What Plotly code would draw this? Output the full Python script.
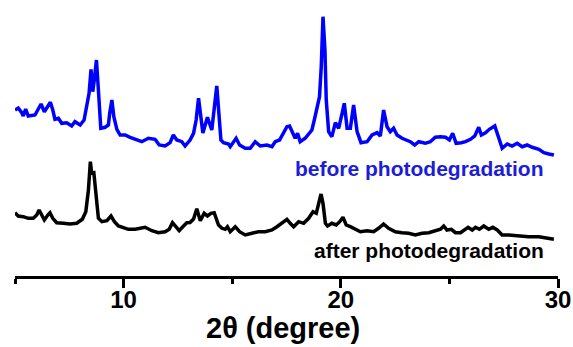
import plotly.graph_objects as go

# XRD patterns (2-theta in degrees, intensity in a.u., stacked for display)
two_theta_before = [
    5.00, 5.15, 5.31, 5.38, 5.49, 5.61, 5.92, 6.07, 6.20, 6.35,
    6.51, 6.63, 6.74, 6.84, 7.00, 7.15, 7.38, 7.61, 7.76, 8.00,
    8.18, 8.30, 8.41, 8.50, 8.58, 8.65, 8.75, 8.84, 8.95, 9.15,
    9.30, 9.36, 9.46, 9.55, 9.69, 9.84, 10.07, 10.30, 10.53, 10.84,
    11.14, 11.45, 11.64, 11.91, 12.14, 12.29, 12.45, 12.68, 12.83, 13.06,
    13.22, 13.34, 13.45,
    13.65, 13.86, 14.06, 14.29, 14.48, 14.60, 14.83, 14.91, 15.18, 15.34,
    15.60, 15.83, 16.06, 16.29, 16.60, 16.83, 16.98, 17.18, 17.36, 17.52,
    17.64, 17.75, 17.90, 18.01, 18.13, 18.36, 18.52, 18.67, 18.78, 18.90,
    19.02, 19.10, 19.18, 19.27, 19.33, 19.44, 19.59, 19.75, 19.90, 20.06,
    20.16, 20.29, 20.44, 20.59, 20.75, 20.93, 21.21, 21.44, 21.67, 21.82,
    21.97,
    22.13, 22.28, 22.43, 22.59, 22.82, 23.05, 23.20, 23.40, 23.59, 23.89,
    24.12, 24.35, 24.59, 24.82, 25.00, 25.15, 25.31, 25.55, 25.74, 25.97,
    26.17, 26.35, 26.47, 26.66, 26.84, 27.09, 27.27, 27.43, 27.66, 27.89,
    28.12, 28.35, 28.58, 28.81, 29.12, 29.35, 29.58, 29.81,
]
intensity_before = [
    166, 168, 163.3, 160, 167, 160, 161, 167, 172, 164.3,
    169.3, 173.7, 166, 156.7, 157.7, 152.7, 153.3, 150, 154.3, 151,
    156, 172.7, 182.7, 206.7, 184.3, 196, 216, 186, 147.7, 148.7,
    151, 162.7, 176, 159.3, 146.7, 141, 141, 138.7, 136.7, 134.3,
    137.7, 136.7, 131, 130, 133.3, 141, 136, 134.3, 130, 136,
    142.7, 156, 177.7,
    143, 158.7, 146, 190, 136, 133.3, 132, 129.3, 137.7, 131,
    127.7, 127.7, 134.3, 130, 131, 129.3, 134.3, 136, 142.7, 149.3,
    150, 144.3, 137.7, 142.7, 134.3, 137.7, 142.7, 146, 156, 168.7,
    179.3, 209.3, 259.3, 226, 176, 144.3, 139.3, 153.3, 147.7, 162.7,
    172.7, 147.7, 147.7, 171, 144.3, 133.3, 134.3, 141, 143.3, 140,
    166,
    149.3, 144.3, 147.7, 141, 137.7, 136, 134.3, 131, 134.3, 132.7,
    134.3, 138.7, 139.3, 138.7, 136, 142.7, 132.7, 133.3, 134.3, 136.7,
    140, 148.7, 141, 143.3, 146.7, 150, 139.3, 127.7, 132, 130,
    132.7, 129.3, 131, 128.7, 126.7, 123.3, 122, 121,
]

two_theta_after = [
    5.00, 5.15, 5.38, 5.61, 5.84, 6.00, 6.11, 6.23, 6.35, 6.51,
    6.61, 6.74, 6.92, 7.23, 7.53, 7.84, 8.10, 8.26, 8.38, 8.47,
    8.53, 8.63, 8.72, 8.84, 9.00, 9.23, 9.42, 9.58, 9.76, 9.99,
    10.22, 10.53, 10.84, 10.99, 11.30, 11.60, 11.91, 12.10, 12.25, 12.37,
    12.56, 12.76, 12.91, 13.06, 13.22, 13.37, 13.53, 13.71, 13.86, 14.02,
    14.17, 14.37, 14.53, 14.68, 14.78, 14.91, 15.14, 15.34, 15.60, 15.91,
    16.21, 16.52, 16.83, 17.06, 17.29, 17.52, 17.67, 17.83, 18.06, 18.29,
    18.52, 18.72, 18.87, 18.98, 19.09, 19.18, 19.29, 19.39, 19.59, 19.79,
    19.95, 20.10, 20.25, 20.44, 20.67, 20.90, 21.21, 21.51, 21.74, 21.97,
    22.20, 22.51, 22.82, 23.12, 23.43, 23.74, 24.05, 24.35, 24.59, 24.74,
    24.89, 25.09, 25.28, 25.51, 25.70, 25.86, 26.05, 26.20, 26.38, 26.58,
    26.81, 27.00, 27.20, 27.43, 27.73, 28.19, 28.65, 29.12, 29.58, 29.81,
]
intensity_after = [
    63.3, 60, 59.3, 57.7, 57.7, 61, 66, 61, 56, 61,
    63.3, 57.7, 53.3, 52.7, 52, 52.7, 56.7, 64.3, 86, 114.3,
    102.7, 103.3, 82.7, 57.7, 54.3, 55.3, 60, 54.3, 50, 48.7,
    46.7, 46.7, 47.7, 48.7, 45.3, 43.3, 44.3, 46.7, 53.3, 50,
    45.3, 50, 53.3, 53.5, 57, 67.3, 55.3, 62.7, 60, 62.7,
    63.3, 51, 47.7, 46.7, 49.3, 44.3, 49.3, 44.3, 41, 42.7,
    44.3, 44.3, 46, 49.3, 52.7, 56.7, 52.7, 49.3, 54.3, 52.7,
    57.7, 64.3, 62.7, 71, 82, 72.7, 52.7, 50, 52.7, 51,
    54.3, 58.7, 51, 49.3, 46.7, 44.3, 45.3, 44.3, 47.7, 52,
    47.7, 44.3, 43.3, 42.7, 41, 42.7, 43.3, 45.3, 46.7, 50,
    46, 46.7, 43.3, 43.3, 46, 48.7, 46, 48.7, 46.7, 50,
    46.7, 48.7, 46, 41, 41, 40, 39.3, 39.3, 37.7, 36.7,
]

major_ticks = [10, 20, 30]
minor_ticks = [5, 15, 25]
label_before = "before photodegradation"
label_after = "after photodegradation"
axis_title = "2θ (degree)"

FONT = "Liberation Sans, Arial, sans-serif"
BLUE = "#0000ff"

fig = go.Figure()
fig.add_trace(go.Scatter(
    x=two_theta_after, y=intensity_after, mode="lines",
    line=dict(color="#000000", width=3.5), showlegend=False,
))
fig.add_trace(go.Scatter(
    x=two_theta_before, y=intensity_before, mode="lines",
    line=dict(color=BLUE, width=3.5), showlegend=False,
))

# curve labels
fig.add_annotation(
    x=29.47, y=108, xref="x", yref="y", text=label_before,
    showarrow=False, xanchor="right", yanchor="middle",
    font=dict(family=FONT, size=21, color="#1c1cd9", weight="bold"),
)
fig.add_annotation(
    x=29.47, y=26, xref="x", yref="y", text=label_after,
    showarrow=False, xanchor="right", yanchor="middle",
    font=dict(family=FONT, size=21, color="#000000", weight="bold"),
)

# x-axis title placed below the tick labels
fig.add_annotation(
    x=0.494, y=-0.19, xref="paper", yref="paper", text=axis_title,
    showarrow=False, xanchor="center", yanchor="middle",
    font=dict(family=FONT, size=29, color="black", weight="bold"),
)

fig.update_layout(
    width=573, height=347,
    margin=dict(l=15, r=15, t=0, b=71),
    paper_bgcolor="white", plot_bgcolor="white",
    xaxis=dict(
        range=[5, 30], showgrid=False, zeroline=False,
        showline=True, linecolor="black", linewidth=3,
        tickmode="array", tickvals=major_ticks,
        ticktext=[str(v) for v in major_ticks],
        ticks="outside", ticklen=9, tickwidth=3, tickcolor="black",
        ticklabelstandoff=-9,
        tickfont=dict(family=FONT, size=24, color="black", weight="bold"),
        minor=dict(tickvals=minor_ticks, ticks="outside", ticklen=5,
                   tickwidth=3, tickcolor="black"),
    ),
    yaxis=dict(range=[0, 276], visible=False),
)

fig.write_html("out.html")
